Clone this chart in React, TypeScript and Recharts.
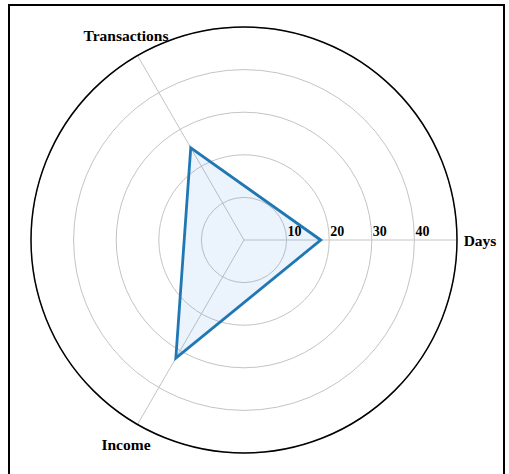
import { RadarChart, PolarGrid, PolarAngleAxis, PolarRadiusAxis, Radar } from 'recharts'

// three metrics, counter-clockwise from the right
const metrics = ['Days', 'Transactions', 'Income']
const values = [18, 25, 32]
const radiusTicks = [10, 20, 30, 40]

const data = metrics.map((m, i) => ({ metric: m, value: values[i] }))

const FONT = '"Liberation Serif", "Times New Roman", serif'
const CX = 244
const CY = 240

// labels sit centred a little outside the outer ring, one per metric,
// spaced evenly counter-clockwise from the right
function AngleTick(props: any) {
  const { payload } = props
  const i = metrics.indexOf(payload.value)
  const a = (i * 2 * Math.PI) / metrics.length
  const r = 236
  return (
    <text
      x={CX + r * Math.cos(a)}
      y={CY - r * Math.sin(a)}
      textAnchor="middle"
      dominantBaseline="central"
      fontFamily={FONT}
      fontWeight="bold"
      fontSize={15.5}
      fill="#000"
    >
      {payload.value}
    </text>
  )
}

function RadiusTick(props: any) {
  const { x, y, payload } = props
  if (!radiusTicks.includes(payload.value)) return null
  return (
    <text x={x + 1} y={y - 4} textAnchor="start" fontFamily={FONT} fontWeight="bold" fontSize={14} fill="#000">
      {payload.value}
    </text>
  )
}

export default function App() {
  return (
    <div style={{ position: 'absolute', left: 0, top: 0, width: 509, height: 474, overflow: 'hidden', background: '#fff' }}>
      <div
        style={{
          position: 'absolute', left: 8, top: 4, width: 497, height: 500,
          border: '2.5px solid #000', boxSizing: 'border-box',
        }}
      />
      <div style={{ position: 'absolute', left: 0, top: 0 }}>
        <RadarChart
          width={509}
          height={474}
          data={data}
          cx={CX}
          cy={CY}
          outerRadius={213}
          startAngle={-120}
          endAngle={240}
        >
          <PolarGrid gridType="circle" stroke="#c4c4c4" strokeWidth={1} />
          <PolarAngleAxis
            dataKey="metric"
            tick={<AngleTick />}
            tickLine={false}
            axisLineType="circle"
            axisLine={{ stroke: '#000', strokeWidth: 1.5 }}
          />
          <PolarRadiusAxis
            angle={0}
            domain={[0, 50]}
            tickCount={6}
            axisLine={false}
            tickLine={false}
            tick={<RadiusTick />}
          />
          <Radar
            dataKey="value"
            stroke="#1f77b4"
            strokeWidth={2.8}
            fill="#3b8ee0"
            fillOpacity={0.1}
            isAnimationActive={false}
          />
        </RadarChart>
      </div>
    </div>
  )
}
